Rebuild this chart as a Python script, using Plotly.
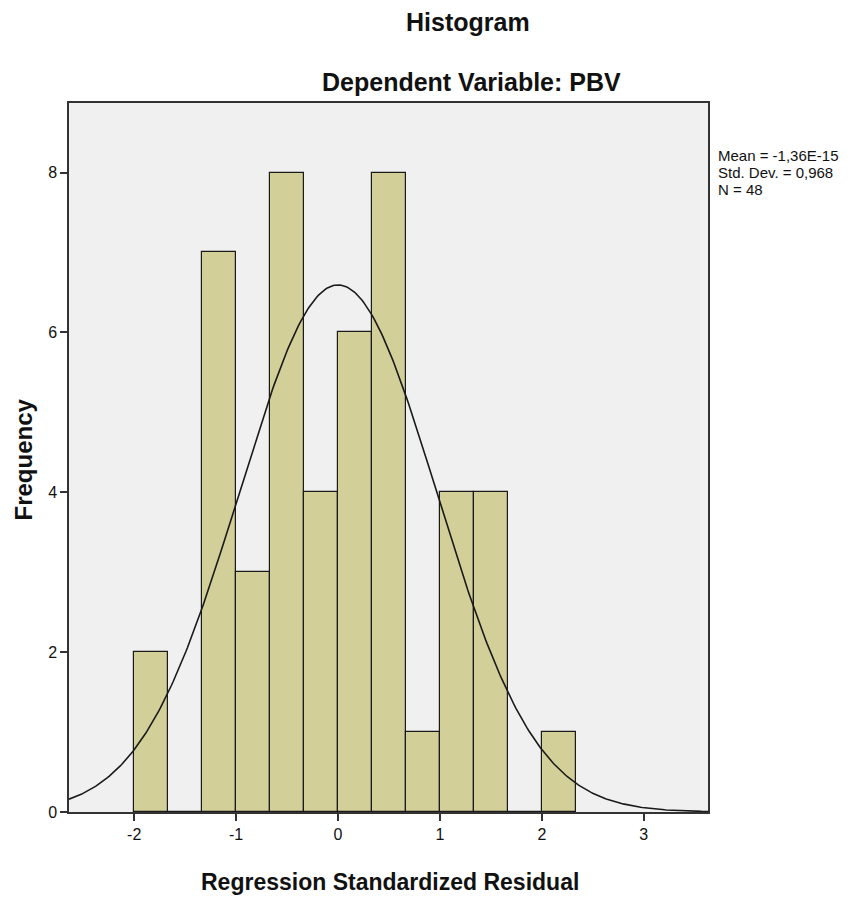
import numpy as np
import plotly.graph_objects as go

bin_left = [-2.0, -1.6667, -1.3333, -1.0, -0.6667, -0.3333, 0.0, 0.3333, 0.6667, 1.0, 1.3333, 1.6667, 2.0]
counts = [2, 0, 7, 3, 8, 4, 6, 8, 1, 4, 4, 0, 1]
bin_width = 1/3
mean_val = -1.36e-15
std_val = 0.968
n_obs = 48
x_ticks = [-2, -1, 0, 1, 2, 3]
y_ticks = [0, 2, 4, 6, 8]
stats_lines = ["Mean = -1,36E-15", "Std. Dev. = 0,968", "N = 48"]

centers = [b + bin_width/2 for b in bin_left]
xs = np.linspace(-2.64, 3.63, 400)
ys = n_obs * bin_width * np.exp(-0.5*((xs-mean_val)/std_val)**2) / (std_val*np.sqrt(2*np.pi))

fig = go.Figure()
fig.add_trace(go.Bar(x=centers, y=counts, width=bin_width,
                     marker=dict(color="#D3CF98", line=dict(color="#1a1a1a", width=1.2)),
                     hoverinfo="skip"))
fig.add_trace(go.Scatter(x=xs, y=ys, mode="lines", line=dict(color="#1a1a1a", width=1.6), hoverinfo="skip"))

font_fam = "Liberation Sans, Arial, sans-serif"
fig.update_layout(
    width=846, height=893,
    margin=dict(l=61, r=146, t=95, b=89),
    paper_bgcolor="white", plot_bgcolor="#F0F0F0",
    showlegend=False, bargap=0,
    font=dict(family=font_fam, color="#111111", size=16),
    xaxis=dict(range=[-2.64, 3.63], tickvals=x_ticks, ticktext=[str(v) for v in x_ticks],
               ticks="outside", ticklen=7, tickwidth=1.5, tickcolor="#333",
               showgrid=False, zeroline=False, showline=True, linecolor="#333", linewidth=1.5, mirror=True,
               tickfont=dict(size=16)),
    yaxis=dict(range=[0, 8.87], tickvals=y_ticks, ticktext=[str(v) for v in y_ticks],
               ticks="outside", ticklen=7, tickwidth=1.5, tickcolor="#333",
               showgrid=False, zeroline=False, showline=True, linecolor="#333", linewidth=1.5, mirror=True,
               tickfont=dict(size=16)),
)
fig.add_annotation(text="<b>Histogram</b>", xref="paper", yref="paper", x=0.624, y=1, yshift=81,
                   xanchor="center", yanchor="middle", showarrow=False, font=dict(size=25, family=font_fam))
fig.add_annotation(text="<b>Dependent Variable: PBV</b>", xref="paper", yref="paper", x=0.63, y=1, yshift=21,
                   xanchor="center", yanchor="middle", showarrow=False, font=dict(size=25, family=font_fam))
fig.add_annotation(text="<b>Regression Standardized Residual</b>", xref="paper", yref="paper", x=0.503, y=0, yshift=-70,
                   xanchor="center", yanchor="middle", showarrow=False, font=dict(size=23, family=font_fam))
fig.add_annotation(text="<b>Frequency</b>", xref="paper", yref="paper", x=0, xshift=-46, y=0.5, yshift=-2,
                   textangle=-90, xanchor="center", yanchor="middle", showarrow=False, font=dict(size=24, family=font_fam))
for i, line in enumerate(stats_lines):
    fig.add_annotation(text=line, xref="paper", yref="paper",
                       x=1, xshift=8, y=1, yshift=-52 - 17*i, xanchor="left", yanchor="middle", align="left",
                       showarrow=False, font=dict(size=15, family=font_fam))
fig.write_html("out.html")
